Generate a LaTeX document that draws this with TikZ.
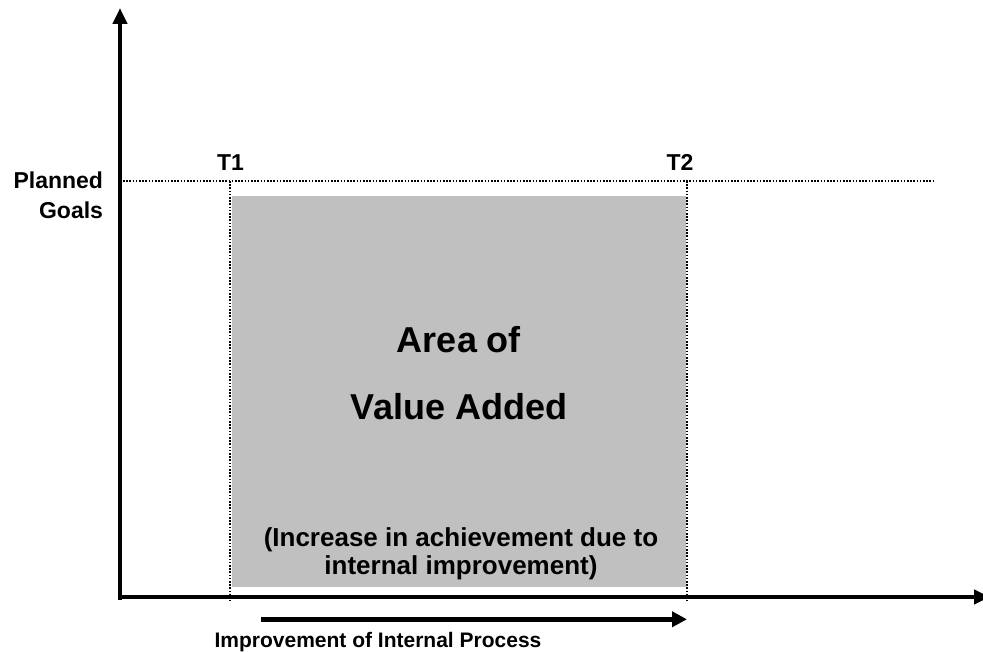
\documentclass[tikz,border=0pt]{standalone}
\usepackage{fontspec}
\setmainfont{Liberation Sans}
\usetikzlibrary{arrows.meta}
\definecolor{areagray}{HTML}{C0C0C0}
\tikzset{
  dotline/.style={line width=2.4bp, dash pattern=on 1.6bp off 1.6bp, black},
  axisline/.style={line width=4.8bp, -{Triangle[width=14bp,length=16bp]}},
  procarrow/.style={line width=5bp, -{Triangle[width=15bp,length=15bp]}},
  txt/.style={inner sep=0pt, outer sep=0pt, text=black}
}
\begin{document}
\begin{tikzpicture}[x=1bp,y=-1bp]
\useasboundingbox (0,0) rectangle (983,652);
% shaded area
\fill[areagray] (232,196) rectangle (686,587);
% coordinates
\coordinate (origin) at (120,599.5);
\coordinate (xstart) at (117.5,597);
\coordinate (ytop) at (120,8);
\coordinate (xend) at (990,597);
\coordinate (goalL) at (123,181);
\coordinate (goalR) at (933,181);
\coordinate (t1top) at (230,181);
\coordinate (t1bot) at (230,601);
\coordinate (t2top) at (687,181);
\coordinate (t2bot) at (687,601);
\coordinate (pa) at (261,619.3);
\coordinate (pb) at (687,619.3);
% dotted lines
\draw[dotline] (goalL) -- (goalR);
\draw[dotline] (t1top) -- (t1bot);
\draw[dotline] (t2top) -- (t2bot);
% axes
\draw[axisline] (origin) -- (ytop);
\draw[axisline] (xstart) -- (xend);
% process arrow
\draw[procarrow] (pa) -- (pb);
% labels
\node[txt, anchor=base, font=\bfseries\fontsize{23bp}{27bp}\selectfont] (t1) at (230.5,171) {T1};
\node[txt, anchor=base, font=\bfseries\fontsize{23bp}{27bp}\selectfont] (t2) at (680,171) {T2};
\node[txt, anchor=north east, align=right, font=\bfseries\fontsize{23bp}{30bp}\selectfont] (goals) at (103,171.5) {Planned\\Goals};
\node[txt, anchor=north, align=center, font=\bfseries\fontsize{36bp}{67bp}\selectfont] (area) at (459,326.5) {Area of\\Value Added};
\node[txt, anchor=north, align=center, font=\bfseries\fontsize{26bp}{28bp}\selectfont] (incr) at (461,527.7) {(Increase in achievement due to\\internal improvement)};
\node[txt, anchor=base, font=\bfseries\fontsize{21bp}{25bp}\selectfont] (proc) at (378,647.3) {Improvement of Internal Process};
\end{tikzpicture}
\end{document}
